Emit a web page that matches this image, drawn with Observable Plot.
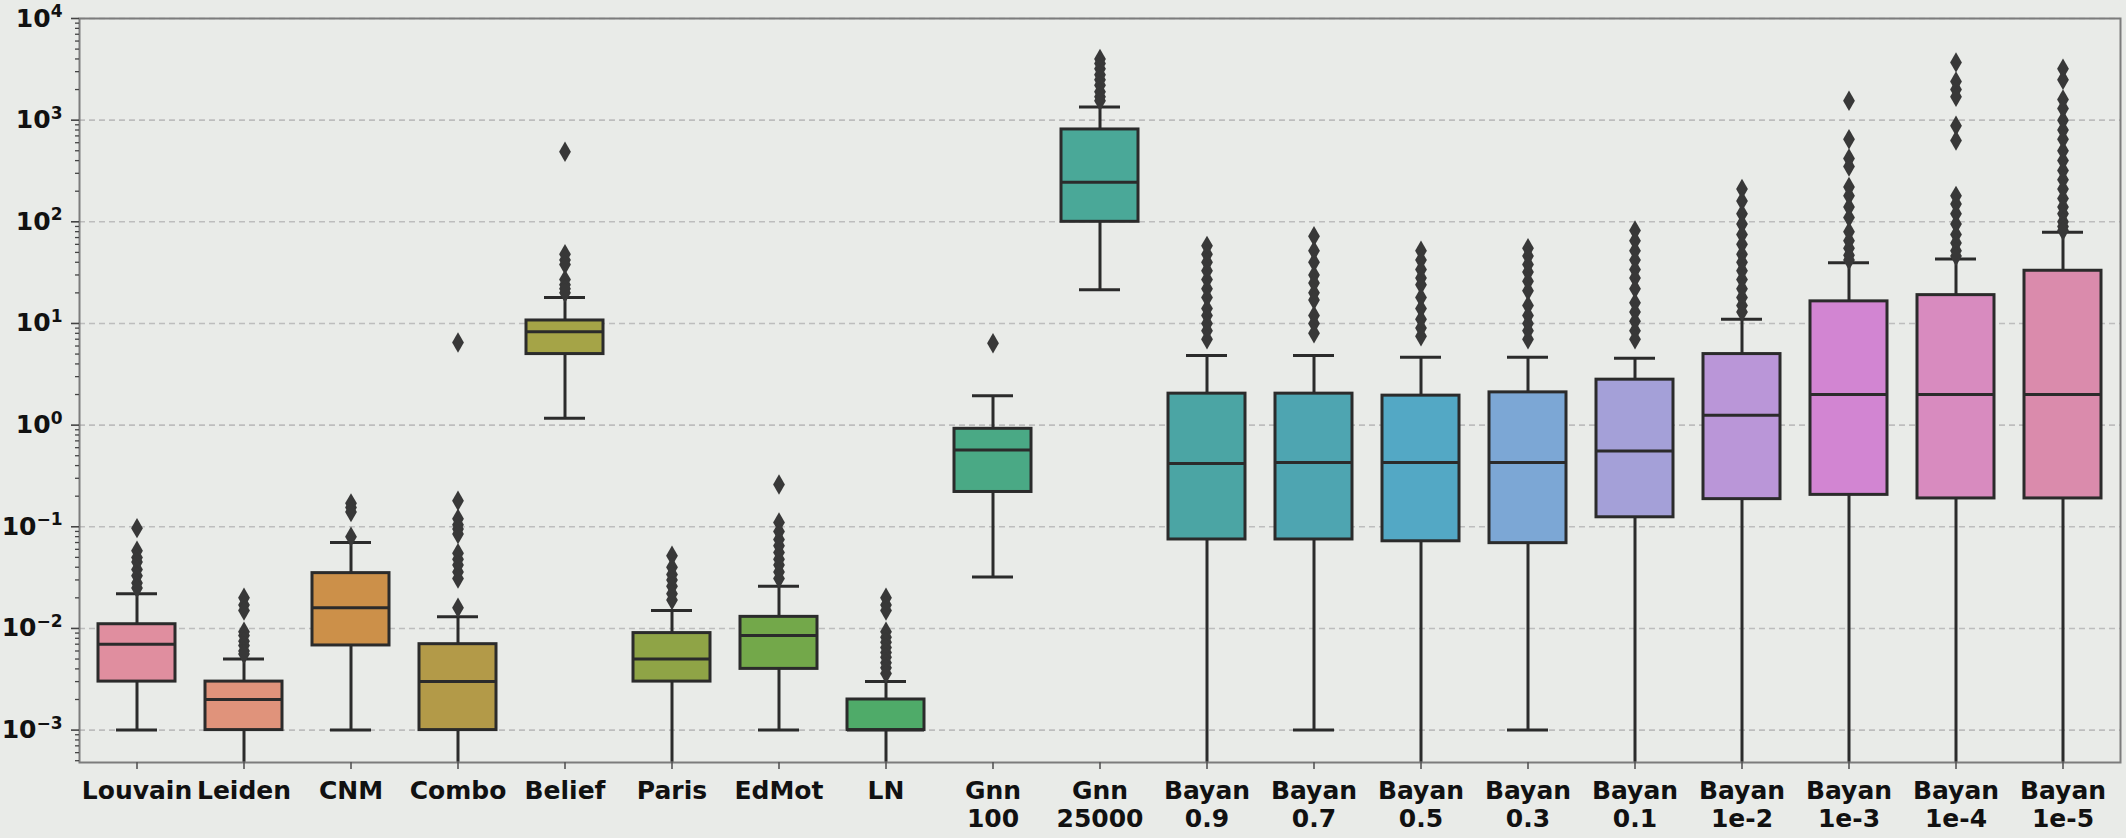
<!DOCTYPE html>
<html>
<head>
<meta charset="utf-8">
<script src="https://cdn.jsdelivr.net/npm/d3@7"></script>
<script src="https://cdn.jsdelivr.net/npm/@observablehq/plot@0.6"></script>
<style>
  html, body { margin: 0; padding: 0; background: #e9ebe8; }
  #chart svg { display: block; }
</style>
</head>
<body>
<div id="chart"></div>
<script>
// ---- data ----
const categories = ["Louvain", "Leiden", "CNM", "Combo", "Belief", "Paris", "EdMot", "LN",
  "Gnn\n100", "Gnn\n25000", "Bayan\n0.9", "Bayan\n0.7", "Bayan\n0.5", "Bayan\n0.3",
  "Bayan\n0.1", "Bayan\n1e-2", "Bayan\n1e-3", "Bayan\n1e-4", "Bayan\n1e-5"];

const q1      = [0.003, 0.001, 0.0068, 0.001, 5.0, 0.003, 0.004, 0.001, 0.22, 100, 0.075, 0.075, 0.072, 0.069, 0.124, 0.187, 0.206, 0.19, 0.19];
const medians = [0.007, 0.002, 0.016, 0.003, 8.3, 0.005, 0.0085, 0.001, 0.57, 245, 0.42, 0.43, 0.43, 0.43, 0.555, 1.25, 2.0, 2.0, 2.0];
const q3      = [0.011, 0.003, 0.035, 0.007, 10.7, 0.009, 0.013, 0.002, 0.92, 810, 2.04, 2.04, 1.95, 2.1, 2.8, 5.0, 16.5, 19, 33];
// lower whisker 0 = the whisker runs down to zero (off the log axis)
const whiskLo = [0.001, 0, 0.001, 0, 1.17, 0, 0.001, 0, 0.032, 21.5, 0, 0.001, 0, 0.001, 0, 0, 0, 0, 0];
const whiskHi = [0.022, 0.005, 0.07, 0.013, 18, 0.015, 0.026, 0.003, 1.95, 1350, 4.85, 4.85, 4.65, 4.65, 4.55, 11, 39.5, 43, 79];

const outliers = [
  [0.097, 0.058, 0.05, 0.045, 0.038, 0.033, 0.028, 0.025],
  [0.02, 0.017, 0.015, 0.0093, 0.0085, 0.0075, 0.0068, 0.006, 0.0056],
  [0.17, 0.155, 0.14, 0.08],
  [6.5, 0.18, 0.12, 0.105, 0.095, 0.085, 0.055, 0.048, 0.042, 0.036, 0.031, 0.016],
  [490, 48, 42, 38, 27, 24, 22, 20],
  [0.052, 0.04, 0.034, 0.03, 0.026, 0.022, 0.019],
  [0.26, 0.11, 0.09, 0.075, 0.065, 0.056, 0.048, 0.042, 0.036, 0.031],
  [0.02, 0.017, 0.015, 0.0093, 0.0082, 0.0073, 0.0065, 0.0058, 0.0052, 0.0046, 0.0041, 0.0036],
  [6.4],
  [4000, 3600, 3200, 2800, 2500, 2200, 1900, 1700, 1550],
  [58, 48, 40, 33, 27, 22, 18, 14, 12, 10, 8.5, 7],
  [72, 52, 40, 30, 25, 20, 17, 12, 10, 8],
  [52, 42, 34, 28, 24, 18, 14, 11, 9, 7.5],
  [55, 46, 38, 32, 26, 21, 15, 12, 10, 8.5, 7],
  [82, 65, 52, 42, 34, 28, 22, 16, 13, 10.5, 8.5, 7],
  [210, 160, 120, 95, 75, 60, 48, 40, 33, 27, 22, 18, 15, 13],
  [1550, 650, 420, 350, 220, 180, 140, 110, 80, 65, 55, 47, 42],
  [3700, 2400, 2000, 1700, 880, 630, 180, 150, 120, 95, 75, 62, 52, 46],
  [3200, 2500, 1600, 1300, 1000, 800, 650, 500, 400, 320, 260, 210, 170, 140, 120, 100, 90, 82]
];

const palette = ["#e08e9f", "#e0937b", "#cc9049", "#b39a48", "#a5a447", "#8fa446", "#73a84a", "#4fab69",
  "#4aa985", "#4aa898", "#4ba5a4", "#4ea5b1", "#53a8c5", "#7ca7d5", "#a4a0d8", "#ba96d8",
  "#d285d2", "#d88bbf", "#da8bac"];

const decades = [1e-3, 1e-2, 1e-1, 1, 10, 100, 1000, 10000];

// ---- derived tables ----
const yMin = 4.8e-4, yMax = 1e4;
const rows = categories.map((c, i) => ({
  cat: c, q1: q1[i], med: medians[i], q3: q3[i], lo: whiskLo[i], hi: whiskHi[i]
}));
const outRows = categories.flatMap((c, i) => outliers[i].map(v => ({cat: c, v})));
const minor = [];
for (let e = -4; e < 4; e++) for (let k = 2; k <= 9; k++) {
  const v = k * Math.pow(10, e);
  if (v >= yMin && v <= yMax) minor.push(v);
}
const supMap = {"-": "\u207B", "0": "\u2070", "1": "\u00B9", "2": "\u00B2", "3": "\u00B3",
  "4": "\u2074", "5": "\u2075", "6": "\u2076", "7": "\u2077", "8": "\u2078", "9": "\u2079"};
const unSup = Object.fromEntries(Object.entries(supMap).map(([k, v]) => [v, k]));
const fmtPow = d => "10" + String(Math.round(Math.log10(d))).split("").map(c => supMap[c]).join("");

const ink = "#2b2b2b";
const lw = 3;
const boxInset = 15;
const capInset = 33;

const chart = Plot.plot({
  width: 2126,
  height: 838,
  marginLeft: 79,
  marginRight: 6,
  marginTop: 18,
  marginBottom: 76,
  style: {
    background: "transparent",
    fontFamily: "DejaVu Sans",
    fontSize: "25px",
    fontWeight: "bold",
    color: "#111"
  },
  x: {type: "band", domain: categories, padding: 0, label: null},
  y: {type: "log", domain: [yMin, yMax], label: null},
  color: {type: "ordinal", domain: categories, range: palette},
  marks: [
    Plot.ruleY(decades, {stroke: "#bdbdbd", strokeWidth: 1.6, strokeDasharray: "6,4"}),
    Plot.ruleX(rows, {x: "cat", y1: d => d.lo > 0 ? d.lo : yMin, y2: "hi", stroke: ink, strokeWidth: lw}),
    Plot.tickY(rows, {x: "cat", y: "hi", stroke: ink, strokeWidth: lw, insetLeft: capInset, insetRight: capInset}),
    Plot.tickY(rows.filter(d => d.lo > 0), {x: "cat", y: "lo", stroke: ink, strokeWidth: lw, insetLeft: capInset, insetRight: capInset}),
    Plot.barY(rows, {x: "cat", y1: "q1", y2: "q3", fill: "cat", stroke: ink, strokeWidth: lw, insetLeft: boxInset, insetRight: boxInset}),
    Plot.tickY(rows, {x: "cat", y: "med", stroke: ink, strokeWidth: lw, insetLeft: boxInset, insetRight: boxInset}),
    Plot.dot(outRows, {x: "cat", y: "v", symbol: "diamond", r: 6.2, fill: "#383838", stroke: "none"}),
    Plot.frame({stroke: "#7c7c7c", strokeWidth: 2}),
    Plot.axisY({ticks: minor, tickSize: 4, tickFormat: () => "", stroke: "#444", strokeWidth: 1.3, label: null}),
    Plot.axisY({ticks: decades, tickSize: 8, tickPadding: 9, tickFormat: fmtPow, stroke: "#444", strokeWidth: 1.6, label: null, fontSize: 25, ariaLabel: "y-major"}),
    Plot.axisX({tickSize: 7, tickPadding: 10, stroke: "#555", strokeWidth: 1.6, label: null, lineHeight: 1.12, fontSize: 25})
  ]
});

// render superscript exponents as matplotlib-like tspans (still real text)
chart.querySelectorAll("text").forEach(t => {
  const s = t.textContent;
  if (!/^10[\u207B\u2070\u00B9\u00B2\u00B3\u2074-\u2079]+$/.test(s)) return;
  const exp = s.slice(2).split("").map(c => unSup[c]).join("").replace("-", "\u2212");
  while (t.firstChild) t.removeChild(t.firstChild);
  const ns = "http://www.w3.org/2000/svg";
  const base = document.createElementNS(ns, "tspan");
  base.textContent = "10";
  const sup = document.createElementNS(ns, "tspan");
  sup.textContent = exp;
  sup.setAttribute("font-size", "17");
  sup.setAttribute("dy", "-0.55em");
  t.appendChild(base);
  t.appendChild(sup);
});

document.getElementById("chart").appendChild(chart);
</script>
</body>
</html>
